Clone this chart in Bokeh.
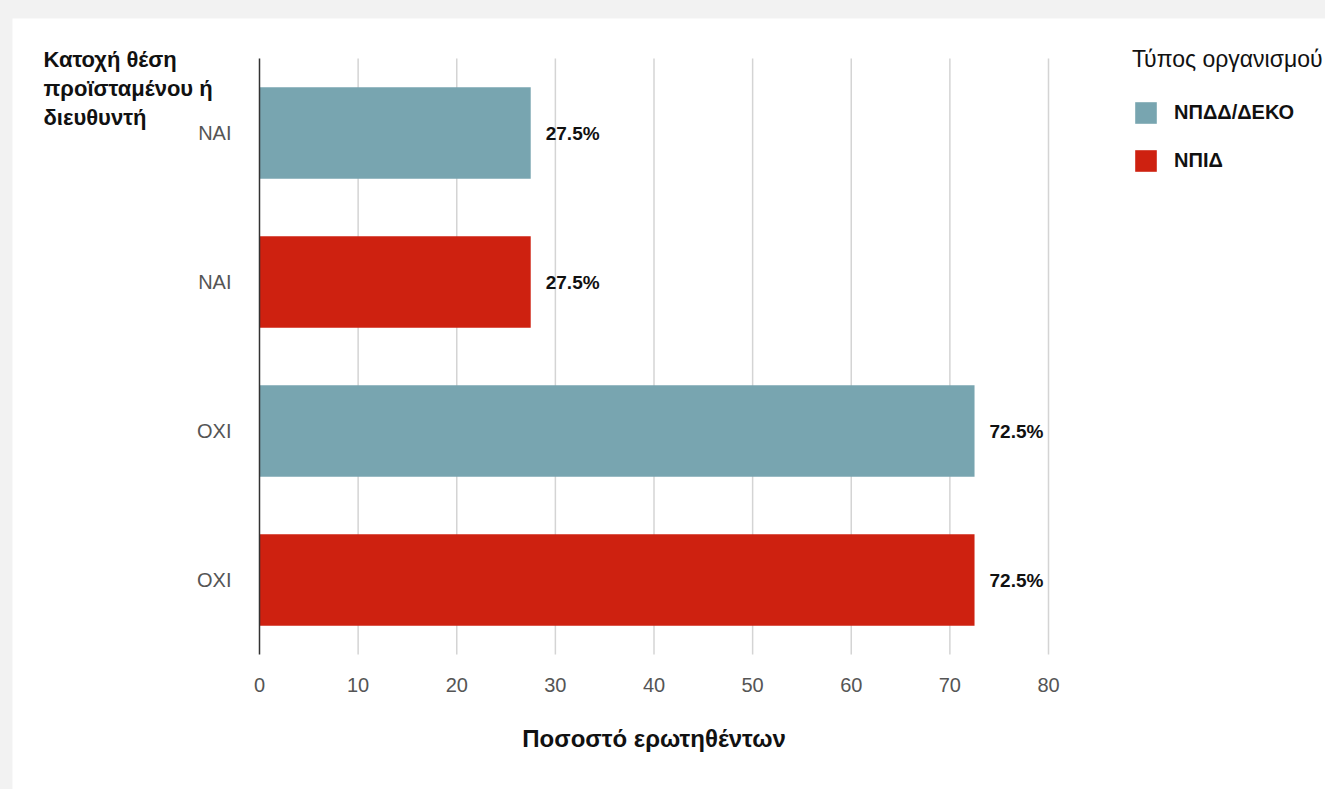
from bokeh.plotting import figure
from bokeh.models import (Range1d, FixedTicker, Label, Legend, LegendItem, ColumnDataSource,
                          LinearAxis)
from bokeh.layouts import column
from bokeh.embed import file_html
from bokeh.resources import INLINE
from bokeh.core.properties import value

# ---- data ----
answers = ["ΝΑΙ", "ΟΧΙ"]
org_types = ["ΝΠΔΔ/ΔΕΚΟ", "ΝΠΙΔ"]
npdd_deko = [27.5, 72.5]
npid = [27.5, 72.5]
x_ticks = [0, 10, 20, 30, 40, 50, 60, 70, 80]
colors = ["#78a5b0", "#ce2110"]
y_title = "Κατοχή θέση\nπροϊσταμένου ή\nδιευθυντή"
x_title = "Ποσοστό ερωτηθέντων"
legend_title = "Τύπος οργανισμού"

# rows from top to bottom: answer x org
rows_lbl, rows_val, rows_org = [], [], []
for i, a in enumerate(answers):
    for j, vals in enumerate([npdd_deko, npid]):
        rows_lbl.append(a)
        rows_val.append(vals[i])
        rows_org.append(org_types[j])
n = len(rows_lbl)
ypos = [n - k - 0.5 for k in range(n)]

# ---- layout (pixels) ----
W, H = 1313, 771
ax_x0, ax_x1 = 247, 1036      # x=0 .. x=80 in figure pixels
ax_top, ax_bot = 40, 636      # y=n .. y=0 in figure pixels
xmax = x_ticks[-1]
ppx = (ax_x1 - ax_x0) / xmax
ppy = (ax_bot - ax_top) / n
x_range = Range1d(-ax_x0 / ppx, (W - ax_x0) / ppx)
y_range = Range1d(-(H - ax_bot) / ppy, n + ax_top / ppy)

p = figure(width=W, height=H, output_backend="svg", toolbar_location=None,
           x_range=x_range, y_range=y_range,
           x_axis_location=None, y_axis_location=None,
           min_border=0, min_border_left=0, min_border_right=0,
           min_border_top=0, min_border_bottom=0)
p.background_fill_color = "white"
p.border_fill_color = "white"
p.outline_line_color = None
p.grid.visible = False

# vertical grid lines (limited to the bar area)
p.segment(x0=x_ticks[1:], x1=x_ticks[1:], y0=0, y1=n, line_color="#d4d4d4", line_width=1.5)

renderers = []
for j, org in enumerate(org_types):
    idx = [k for k in range(n) if rows_org[k] == org]
    src = ColumnDataSource(dict(y=[ypos[k] for k in idx], right=[rows_val[k] for k in idx],
                                txt=[f"{rows_val[k]}%" for k in idx]))
    r = p.hbar(y="y", right="right", left=0, height=0.615, source=src,
               fill_color=colors[j], line_color=None)
    renderers.append(r)
    p.text(x="right", y="y", text="txt", source=src, x_offset=15,
           text_align="left", text_baseline="middle",
           text_font=value("Liberation Sans"), text_font_style="bold",
           text_font_size="19px", text_color="#111111")

# axes at fixed locations
xaxis = LinearAxis(fixed_location=0, bounds=(0, xmax), ticker=FixedTicker(ticks=x_ticks))
xaxis.axis_line_color = None
xaxis.major_tick_line_color = None
xaxis.minor_tick_line_color = None
xaxis.major_label_text_font = "Liberation Sans"
xaxis.major_label_text_font_size = "20px"
xaxis.major_label_text_color = "#555555"
xaxis.major_label_standoff = 17
xaxis.axis_label = x_title
xaxis.axis_label_text_font = "Liberation Sans"
xaxis.axis_label_text_font_style = "bold"
xaxis.axis_label_text_font_size = "24px"
xaxis.axis_label_text_color = "#111111"
xaxis.axis_label_standoff = 30
p.add_layout(xaxis, "below")

yaxis = LinearAxis(fixed_location=0, bounds=(0, n), ticker=FixedTicker(ticks=ypos))
yaxis.major_label_overrides = {ypos[k]: rows_lbl[k] for k in range(n)}
yaxis.axis_line_color = "#333333"
yaxis.axis_line_width = 1.5
yaxis.major_tick_line_color = None
yaxis.minor_tick_line_color = None
yaxis.major_label_text_font = "Liberation Sans"
yaxis.major_label_text_font_size = "20px"
yaxis.major_label_text_color = "#555555"
yaxis.major_label_standoff = 22
p.add_layout(yaxis, "left")

# y axis title (top-left)
p.add_layout(Label(x=(31 - ax_x0) / ppx, y=n + 12 / ppy, text=y_title,
                   text_font="Liberation Sans", text_font_style="bold", text_font_size="22px",
                   text_color="#111111", text_align="left", text_baseline="top",
                   text_line_height=1.17))

legend = Legend(items=[LegendItem(label=org_types[j], renderers=[renderers[j]]) for j in range(2)],
                location=(1120, 615), title=legend_title)
legend.title_text_font = "Liberation Sans"
legend.title_text_font_style = "normal"
legend.title_text_font_size = "23px"
legend.title_text_color = "#111111"
legend.title_standoff = 26
legend.label_text_font = "Liberation Sans"
legend.label_text_font_style = "bold"
legend.label_text_font_size = "20px"
legend.label_text_color = "#111111"
legend.glyph_width = 27
legend.glyph_height = 27
legend.label_height = 27
legend.label_standoff = 15
legend.spacing = 21
legend.padding = 0
legend.margin = 0
legend.border_line_color = None
legend.background_fill_alpha = 0
p.add_layout(legend)

layout = column(p, styles={"background-color": "#f2f2f2", "padding-left": "12px",
                           "padding-top": "18px"})

open("out.html", "w").write(file_html(layout, INLINE))
